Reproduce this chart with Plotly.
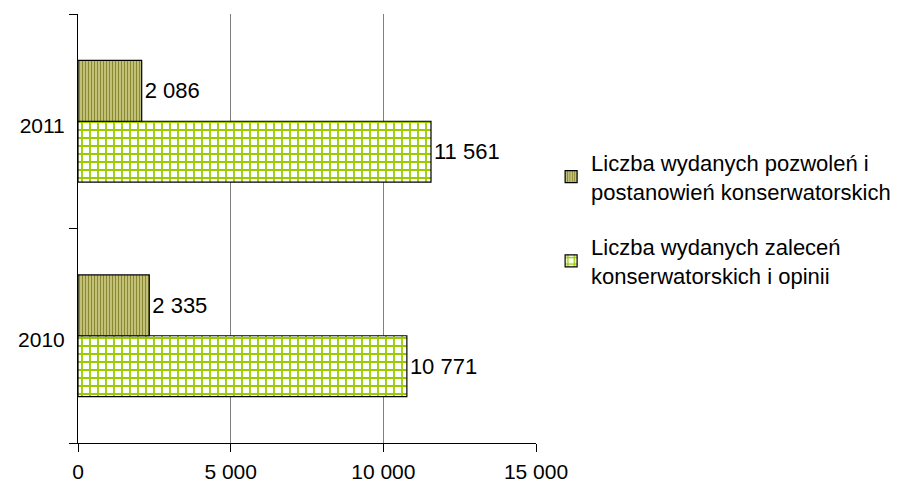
import plotly.graph_objects as go

years = ["2010", "2011"]
permits = [2335, 2086]
recommendations = [10771, 11561]
names = ["Liczba wydanych pozwoleń i<br>postanowień konserwatorskich",
         "Liczba wydanych zaleceń<br>konserwatorskich i opinii"]
x_ticks = [0, 5000, 10000, 15000]

font = "Liberation Sans, Arial, sans-serif"

fig = go.Figure()
fig.add_trace(go.Bar(
    y=years, x=recommendations, orientation="h", name=names[1],
    legendrank=2, legendgroup="b",
    marker=dict(color="white", line=dict(color="black", width=1.2),
                pattern=dict(shape="+", fgcolor="#99cc00", bgcolor="white",
                             size=8, solidity=0.4, fgopacity=1)),
    texttemplate="%{x:,}", textposition="outside",
    textfont=dict(size=22, color="black", family=font), cliponaxis=False,
))
fig.add_trace(go.Bar(
    y=years, x=permits, orientation="h", name=names[0],
    legendrank=1, legendgroup="a",
    marker=dict(color="#e6e6a8", line=dict(color="black", width=1.2),
                pattern=dict(shape="|", fgcolor="#8a8830", bgcolor="#e6e6a8",
                             size=3, solidity=0.6, fgopacity=1)),
    texttemplate="%{x:,}", textposition="outside",
    textfont=dict(size=22, color="black", family=font), cliponaxis=False,
))

fig.update_layout(
    width=895, height=481,
    margin=dict(l=70, r=367, t=6, b=41),
    paper_bgcolor="white", plot_bgcolor="white",
    barmode="group", bargap=0.433, bargroupgap=0,
    separators=", ",
    font=dict(family=font, size=21, color="black"),
    showlegend=True,
    legend=dict(x=1.033, y=0.522, xanchor="left", yanchor="middle",
                font=dict(size=22, family=font), tracegroupgap=24,
                itemwidth=30, bgcolor="rgba(0,0,0,0)"),
)
fig.update_xaxes(
    range=[0, 15000], tickvals=x_ticks, tickformat=",",
    showgrid=True, gridcolor="#808080", gridwidth=1.3,
    showline=True, linecolor="black", linewidth=1,
    ticks="outside", ticklen=8, tickcolor="black",
    zeroline=False, tickfont=dict(size=21), ticklabelstandoff=2,
)
fig.update_yaxes(
    type="category", range=[-0.5, 1.5], tickson="boundaries",
    showline=True, linecolor="black", linewidth=1,
    ticks="outside", ticklen=8, tickcolor="black",
    showgrid=False, tickfont=dict(size=21),
    ticklabelstandoff=8, ticklabelshift=4,
)

fig.write_html("out.html")
